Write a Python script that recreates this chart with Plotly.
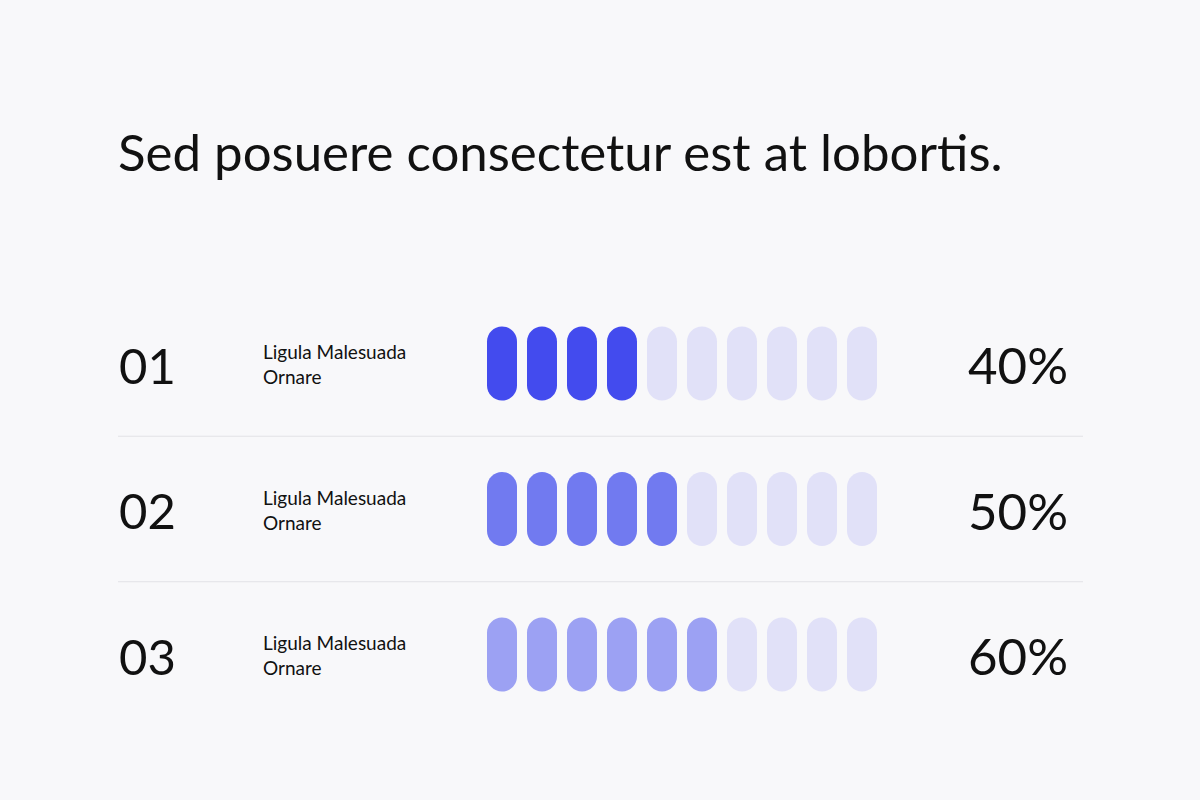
import plotly.graph_objects as go

# ---- data ----
title = "Sed posuere consectetur est at lobortis."
row_numbers = ["01", "02", "03"]
label_line1 = ["Ligula Malesuada", "Ligula Malesuada", "Ligula Malesuada"]
label_line2 = ["Ornare", "Ornare", "Ornare"]
percent_values = [40, 50, 60]
segment_count = 10
segment_step = 10  # each pill = 10 %

# ---- style ----
bg = "#F8F8FA"
fill_colors = ["#434BEE", "#717AF0", "#9CA1F3"]
empty_color = "#E1E1F8"
text_color = "#111111"
sep_color = "#E2E2E6"
FONT = "Lato"

# pixel scale of axes (layout)
X_PX = 40.0      # px per pill step
Y_PX = 145.5     # px per row
X0_PX = 502.0    # pixel of pill index 0 centre
Y0_PX = 363.5    # pixel of row 0 centre
W, H = 1200, 800

pill_half_w = 15.0 / X_PX
pill_half_h = 37.0 / Y_PX
pill_ry = 15.0 / Y_PX
k = 0.5523


def pill_path(cx, cy):
    w, h, ry = pill_half_w, pill_half_h, pill_ry
    top = cy - h
    bot = cy + h
    p = []
    p.append(f"M {cx-w},{top+ry}")
    p.append(f"C {cx-w},{top+ry-k*ry} {cx-k*w},{top} {cx},{top}")
    p.append(f"C {cx+k*w},{top} {cx+w},{top+ry-k*ry} {cx+w},{top+ry}")
    p.append(f"L {cx+w},{bot-ry}")
    p.append(f"C {cx+w},{bot-ry+k*ry} {cx+k*w},{bot} {cx},{bot}")
    p.append(f"C {cx-k*w},{bot} {cx-w},{bot-ry+k*ry} {cx-w},{bot-ry}")
    p.append("Z")
    return " ".join(p)


fig = go.Figure()
# invisible trace to anchor axes
fig.add_trace(go.Scatter(x=[0, segment_count - 1], y=[0, len(row_numbers) - 1],
                         mode="markers", marker=dict(opacity=0), hoverinfo="skip",
                         showlegend=False))

shapes = []
annotations = []
for r, (num, l1, l2, val) in enumerate(zip(row_numbers, label_line1, label_line2, percent_values)):
    filled = val // segment_step
    for i in range(segment_count):
        shapes.append(dict(type="path", xref="x", yref="y", path=pill_path(i, r),
                           fillcolor=fill_colors[r] if i < filled else empty_color,
                           line=dict(width=0), layer="above"))
    annotations.append(dict(text=num, xref="paper", x=117 / W, xanchor="left",
                            yref="y", y=r, yanchor="middle", yshift=-1, showarrow=False,
                            font=dict(family=FONT, size=49, color=text_color)))
    annotations.append(dict(text=f"{val}%", xref="paper", x=1070 / W, xanchor="right",
                            yref="y", y=r, yanchor="middle", yshift=-1, showarrow=False,
                            font=dict(family=FONT, size=51, color=text_color)))
    annotations.append(dict(text=l1, xref="paper", x=261 / W, xanchor="left",
                            yref="y", y=r, yanchor="middle", yshift=12, showarrow=False,
                            font=dict(family=FONT, size=19, color=text_color)))
    annotations.append(dict(text=l2, xref="paper", x=261 / W, xanchor="left",
                            yref="y", y=r, yanchor="middle", yshift=-13, showarrow=False,
                            font=dict(family=FONT, size=19, color=text_color)))
    if r < len(row_numbers) - 1:
        shapes.append(dict(type="line", xref="paper", x0=118 / W, x1=1083 / W,
                           yref="y", y0=r + 0.5, y1=r + 0.5,
                           line=dict(color=sep_color, width=1)))

annotations.append(dict(text=title, xref="paper", x=116 / W, xanchor="left",
                        yref="paper", y=1 - 152 / H, yanchor="middle", showarrow=False,
                        font=dict(family=FONT, size=51, color=text_color)))

fig.update_layout(
    width=W, height=H,
    margin=dict(l=0, r=0, t=0, b=0),
    paper_bgcolor=bg, plot_bgcolor=bg,
    xaxis=dict(range=[-X0_PX / X_PX, (W - X0_PX) / X_PX], visible=False, fixedrange=True),
    yaxis=dict(range=[(H - Y0_PX) / Y_PX, -Y0_PX / Y_PX], visible=False, fixedrange=True),
    shapes=shapes,
    annotations=annotations,
    showlegend=False,
)

fig.write_html(
    "out.html",
    config={"displayModeBar": False},
    post_script="document.body.style.margin='0';document.body.style.background='%s';"
                "document.body.style.overflow='hidden';" % bg,
)
